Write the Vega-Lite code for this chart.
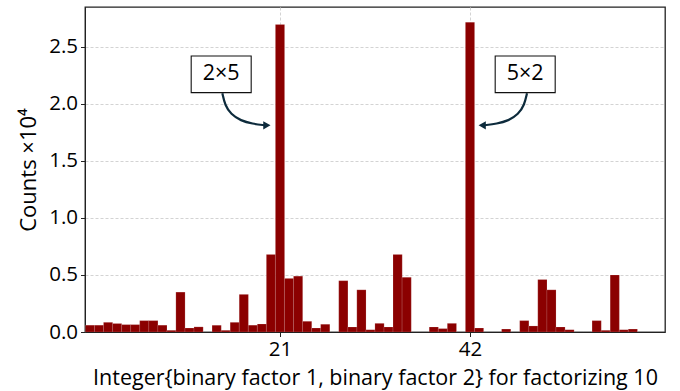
{
  "$schema": "https://vega.github.io/schema/vega-lite/v6.json",
  "autosize": "none",
  "width": 580,
  "height": 325,
  "padding": {"left": 85, "top": 7, "right": 15, "bottom": 59},
  "background": "white",
  "config": {
    "view": {"stroke": "#222222", "strokeWidth": 1.3},
    "axis": {
      "labelFont": "Open Sans",
      "labelFontSize": 20.5,
      "labelColor": "#000000",
      "titleColor": "#000000",
      "domainColor": "#222222",
      "tickColor": "#222222",
      "tickSize": 4.5,
      "labelPadding": 3,
      "gridColor": "#d3d3d3",
      "gridDash": [3, 2],
      "gridWidth": 1
    }
  },
  "datasets": {
    "counts": [
      {"k": 0, "c": 0.06}, {"k": 1, "c": 0.06}, {"k": 2, "c": 0.085}, {"k": 3, "c": 0.074},
      {"k": 4, "c": 0.065}, {"k": 5, "c": 0.065}, {"k": 6, "c": 0.10}, {"k": 7, "c": 0.10},
      {"k": 8, "c": 0.06}, {"k": 9, "c": 0.015}, {"k": 10, "c": 0.35}, {"k": 11, "c": 0.035},
      {"k": 12, "c": 0.045}, {"k": 13, "c": 0.0}, {"k": 14, "c": 0.06}, {"k": 15, "c": 0.015},
      {"k": 16, "c": 0.085}, {"k": 17, "c": 0.33}, {"k": 18, "c": 0.06}, {"k": 19, "c": 0.07},
      {"k": 20, "c": 0.68}, {"k": 21, "c": 2.697}, {"k": 22, "c": 0.47}, {"k": 23, "c": 0.49},
      {"k": 24, "c": 0.094}, {"k": 25, "c": 0.035}, {"k": 26, "c": 0.068}, {"k": 27, "c": 0.0},
      {"k": 28, "c": 0.45}, {"k": 29, "c": 0.044}, {"k": 30, "c": 0.37}, {"k": 31, "c": 0.02},
      {"k": 32, "c": 0.076}, {"k": 33, "c": 0.044}, {"k": 34, "c": 0.68}, {"k": 35, "c": 0.48},
      {"k": 36, "c": 0.0}, {"k": 37, "c": 0.0}, {"k": 38, "c": 0.044}, {"k": 39, "c": 0.03},
      {"k": 40, "c": 0.076}, {"k": 41, "c": 0.0}, {"k": 42, "c": 2.717}, {"k": 43, "c": 0.035},
      {"k": 44, "c": 0.0}, {"k": 45, "c": 0.0}, {"k": 46, "c": 0.026}, {"k": 47, "c": 0.0},
      {"k": 48, "c": 0.10}, {"k": 49, "c": 0.053}, {"k": 50, "c": 0.46}, {"k": 51, "c": 0.37},
      {"k": 52, "c": 0.044}, {"k": 53, "c": 0.02}, {"k": 54, "c": 0.0}, {"k": 55, "c": 0.0},
      {"k": 56, "c": 0.10}, {"k": 57, "c": 0.015}, {"k": 58, "c": 0.50}, {"k": 59, "c": 0.02},
      {"k": 60, "c": 0.026}, {"k": 61, "c": 0.0}, {"k": 62, "c": 0.0}, {"k": 63, "c": 0.0}
    ],
    "arrows": [
      {"id": "L", "o": 0, "x": 14.63, "y": 2.093},
      {"id": "L", "o": 1, "x": 14.92, "y": 1.988},
      {"id": "L", "o": 2, "x": 15.57, "y": 1.91},
      {"id": "L", "o": 3, "x": 16.66, "y": 1.853},
      {"id": "L", "o": 4, "x": 17.96, "y": 1.826},
      {"id": "L", "o": 5, "x": 19.3, "y": 1.813},
      {"id": "R", "o": 0, "x": 48.3, "y": 2.093},
      {"id": "R", "o": 1, "x": 48.0, "y": 1.988},
      {"id": "R", "o": 2, "x": 47.35, "y": 1.91},
      {"id": "R", "o": 3, "x": 46.26, "y": 1.853},
      {"id": "R", "o": 4, "x": 44.96, "y": 1.826},
      {"id": "R", "o": 5, "x": 43.6, "y": 1.813}
    ],
    "heads": [
      {"id": "L", "x": 19.55, "y": 1.812, "shape": "triangle-right"},
      {"id": "R", "x": 43.35, "y": 1.812, "shape": "triangle-left"}
    ],
    "labels": [
      {"t": "2×5", "x": 14.5, "y": 2.26},
      {"t": "5×2", "x": 48.1, "y": 2.26}
    ]
  },
  "layer": [
    {
      "data": {"name": "counts"},
      "mark": {"type": "bar", "width": 9.22, "color": "#8b0000", "clip": true, "stroke": "#ffffff", "strokeOpacity": 0.25, "strokeWidth": 0.6},
      "encoding": {
        "x": {
          "field": "k", "type": "quantitative",
          "scale": {"domain": [0, 63], "nice": false, "zero": false},
          "axis": {
            "values": [21, 42], "grid": true,
            "title": "Integer{binary factor 1, binary factor 2} for factorizing 10",
            "titleFont": "Open Sans", "titleFontSize": 21.5, "titleFontWeight": "normal",
            "titlePadding": 7
          }
        },
        "y": {
          "field": "c", "type": "quantitative",
          "scale": {"domain": [0, 2.85], "nice": false},
          "axis": {
            "values": [0, 0.5, 1.0, 1.5, 2.0, 2.5], "format": ".1f", "grid": true,
            "title": "Counts ×10⁴",
            "titleFont": "Open Sans", "titleFontSize": 22, "titleFontWeight": "normal",
            "titlePadding": 8
          }
        }
      }
    },
    {
      "data": {"name": "arrows"},
      "mark": {"type": "line", "interpolate": "basis", "color": "#0d2b3c", "strokeWidth": 2.2},
      "encoding": {
        "x": {"field": "x", "type": "quantitative"},
        "y": {"field": "y", "type": "quantitative"},
        "detail": {"field": "id"},
        "order": {"field": "o"}
      }
    },
    {
      "data": {"name": "heads"},
      "mark": {"type": "point", "filled": true, "color": "#0d2b3c", "size": 70, "opacity": 1},
      "encoding": {
        "x": {"field": "x", "type": "quantitative"},
        "y": {"field": "y", "type": "quantitative"},
        "shape": {"field": "shape", "type": "nominal", "scale": null}
      }
    },
    {
      "data": {"name": "labels"},
      "mark": {"type": "point", "shape": "M-1,-0.61H1V0.61H-1Z", "size": 3600, "filled": true, "fill": "white", "stroke": "#111111", "strokeWidth": 1.1, "opacity": 1},
      "encoding": {
        "x": {"field": "x", "type": "quantitative"},
        "y": {"field": "y", "type": "quantitative"}
      }
    },
    {
      "data": {"name": "labels"},
      "mark": {"type": "text", "font": "Open Sans", "fontSize": 21.5, "color": "#000000", "align": "center", "baseline": "middle"},
      "encoding": {
        "x": {"field": "x", "type": "quantitative"},
        "y": {"field": "y", "type": "quantitative"},
        "text": {"field": "t"}
      }
    }
  ]
}
